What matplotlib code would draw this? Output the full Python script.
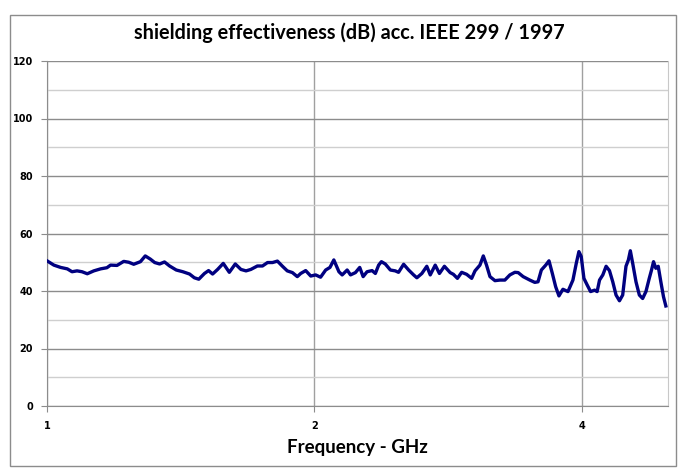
import numpy as np
import matplotlib
matplotlib.use('Agg')
import matplotlib.pyplot as plt
from matplotlib.patches import Rectangle
from matplotlib.ticker import FixedLocator, NullFormatter

# frequency in GHz, shielding effectiveness in dB
freq_ghz = [1.000, 1.018, 1.036, 1.054, 1.067, 1.081, 1.095, 1.110, 1.129, 1.149,
            1.168, 1.179, 1.199, 1.220, 1.236, 1.252, 1.274, 1.290, 1.307, 1.322,
            1.339, 1.356, 1.374, 1.398, 1.422, 1.447, 1.465, 1.482, 1.504, 1.520,
            1.536, 1.556, 1.579, 1.604, 1.629, 1.653, 1.675, 1.696, 1.725, 1.748,
            1.771, 1.794, 1.817, 1.841, 1.864, 1.889, 1.913, 1.930, 1.955, 1.981,
            2.006, 2.032, 2.059, 2.082, 2.103, 2.131, 2.149, 2.177, 2.196, 2.224,
            2.249, 2.269, 2.292, 2.322, 2.342, 2.362, 2.379, 2.403, 2.435, 2.466,
            2.487, 2.520, 2.553, 2.586, 2.608, 2.642, 2.676, 2.700, 2.735, 2.765,
            2.801, 2.843, 2.867, 2.897, 2.929, 2.967, 3.006, 3.032, 3.071, 3.098,
            3.124, 3.152, 3.193, 3.234, 3.276, 3.319, 3.362, 3.391, 3.435, 3.495,
            3.540, 3.570, 3.601, 3.642, 3.673, 3.705, 3.737, 3.769, 3.808, 3.858,
            3.908, 3.942, 3.969, 3.993, 4.021, 4.055, 4.091, 4.134, 4.161, 4.187,
            4.223, 4.259, 4.296, 4.333, 4.370, 4.409, 4.446, 4.484, 4.512, 4.535,
            4.563, 4.602, 4.642, 4.682, 4.722, 4.763, 4.791, 4.816, 4.845, 4.875,
            4.908, 4.942, 4.972]
se_db = [50.5, 49.0, 48.2, 47.7, 46.7, 47.0, 46.7, 46.0, 47.0, 47.7,
         48.1, 49.0, 48.9, 50.3, 50.0, 49.3, 50.2, 52.2, 51.1, 49.9,
         49.4, 50.1, 48.7, 47.3, 46.7, 45.9, 44.6, 44.1, 46.1, 47.1,
         45.9, 47.5, 49.6, 46.5, 49.4, 47.5, 47.0, 47.5, 48.7, 48.7,
         49.9, 49.9, 50.4, 48.6, 47.0, 46.4, 45.0, 46.1, 47.1, 45.2,
         45.6, 44.8, 47.3, 48.2, 50.8, 46.7, 45.6, 47.3, 45.6, 46.4,
         48.2, 45.0, 46.7, 47.1, 46.1, 49.0, 50.2, 49.4, 47.3, 47.0,
         46.5, 49.3, 47.3, 45.6, 44.6, 46.1, 48.6, 45.6, 49.0, 46.1,
         48.6, 46.4, 45.8, 44.4, 46.5, 45.8, 44.4, 47.0, 49.0, 52.2,
         49.0, 45.0, 43.6, 43.8, 43.8, 45.6, 46.5, 46.4, 45.0, 43.8,
         43.0, 43.2, 47.3, 49.0, 50.5, 46.1, 41.5, 38.3, 40.6, 39.8,
         43.8, 49.6, 53.7, 52.0, 44.4, 42.1, 39.8, 40.3, 39.8, 43.8,
         45.6, 48.6, 47.1, 43.2, 38.6, 36.6, 38.6, 48.6, 50.8, 54.0,
         49.6, 43.2, 38.6, 37.4, 39.8, 44.4, 47.3, 50.2, 47.9, 48.6,
         43.2, 38.0, 34.8]

x_ticks = [1, 2, 4]
y_ticks = [0, 20, 40, 60, 80, 100, 120]

fig = plt.figure(figsize=(6.79, 4.68), dpi=100)
# grey frame round the whole chart
fig.patches.append(Rectangle((10 / 679, 2 / 468), 666 / 679, 451 / 468,
                             transform=fig.transFigure, fill=False,
                             edgecolor='#8c8c8c', linewidth=1.0))

ax = fig.add_axes([47 / 679, 1 - 406 / 468, 621 / 679, 345 / 468])
ax.plot(freq_ghz, se_db, color='#000080', linewidth=2.4, zorder=3)

ax.set_xscale('log')
ax.set_xlim(1, 5)
ax.set_ylim(0, 120)
ax.xaxis.set_major_locator(FixedLocator(x_ticks))
ax.xaxis.set_minor_locator(FixedLocator([]))
ax.xaxis.set_minor_formatter(NullFormatter())
ax.set_xticklabels([str(t) for t in x_ticks])
ax.set_yticks(y_ticks)
ax.set_yticks(range(10, 120, 20), minor=True)

ax.grid(axis='y', which='major', color='#8c8c8c', linewidth=1.0)
ax.grid(axis='y', which='minor', color='#cfcfcf', linewidth=1.0)
ax.grid(axis='x', which='major', color='#a0a0a0', linewidth=1.0)

for s in ['left', 'bottom']:
    ax.spines[s].set_color('#8c8c8c')
ax.spines['right'].set_color('#c8c8c8')
ax.spines['top'].set_visible(False)

ax.tick_params(axis='both', which='major', direction='out', length=4,
               color='#8c8c8c', labelsize=7)
ax.tick_params(axis='y', which='minor', length=0)
ax.tick_params(axis='y', pad=6)
ax.tick_params(axis='x', pad=7)
for lbl in ax.get_xticklabels() + ax.get_yticklabels():
    lbl.set_fontweight('bold')

fig.text(349 / 679, 1 - 33 / 468, 'shielding effectiveness (dB) acc. IEEE 299 / 1997',
         ha='center', va='center', fontsize=14.3, fontweight='bold', family='Lato')
fig.text(357 / 679, 1 - 447 / 468, 'Frequency - GHz',
         ha='center', va='center', fontsize=13.5, fontweight='bold', family='Lato')

fig.savefig('out.png', dpi=100)
